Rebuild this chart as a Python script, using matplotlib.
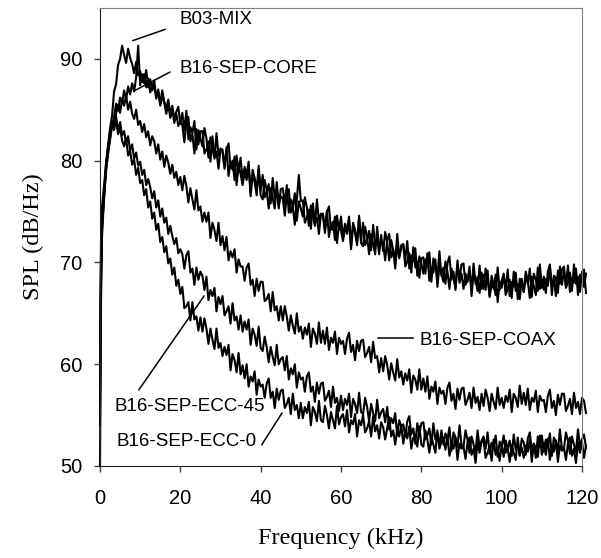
import matplotlib
matplotlib.use("Agg")
import matplotlib.pyplot as plt
import numpy as np

# frequency grid (kHz): 0, 0.25, then every 0.5 kHz up to 121
freq = np.concatenate([[0, 0.25], np.arange(0.5, 121.01, 0.5)])

# SPL (dB/Hz), one row = 5 kHz
mix = [62, 72, 75.5, 77.5, 79.8, 81.5, 83.2, 84.4, 86.8, 87.5, 89.4, 90.0, 91.3, 90.4, 89.6, 91.0, 90.1, 89.5, 88.6,
       89.7, 88.4, 88.8, 87.7, 88.5, 87.2, 88.1, 86.7, 87.3, 87.9, 86.2, 86.8, 85.6, 86.9, 85.8, 85.1, 86.0, 84.6,
       85.4, 84.2, 84.8, 85.3, 83.6,
       84.7, 83.0, 84.9, 82.1, 83.3, 82.7, 83.9, 81.1, 83.0, 82.2,
       81.4, 83.2, 82.2, 80.3, 82.3, 81.2, 80.2, 82.7, 80.5, 81.2,
       80.9, 79.2, 81.1, 81.7, 79.3, 80.0, 78.1, 80.5, 79.0, 80.3,
       78.1, 79.4, 78.6, 79.9, 76.9, 79.1, 78.3, 77.0, 79.5, 77.0,
       78.6, 76.4, 76.9, 77.7, 75.8, 78.3, 76.3, 76.9, 75.3, 77.2,
       77.3, 75.7, 77.6, 74.9, 76.2, 75.5, 76.8, 74.1, 76.0, 75.3,
       74.5, 76.4, 75.4, 73.6, 75.6, 74.6, 73.6, 76.2, 74.0, 74.8,
       74.6, 72.9, 74.9, 75.5, 73.2, 74.0, 72.2, 74.6, 73.2, 74.5,
       72.4, 73.8, 73.1, 74.5, 71.6, 73.9, 73.2, 72.0, 74.6, 72.2,
       73.9, 71.7, 72.2, 73.1, 71.2, 73.7, 71.7, 72.4, 70.8, 72.7,
       71.1, 73.0, 72.0, 70.2, 72.2, 71.2, 70.2, 72.8, 70.6, 71.4,
       71.8, 70.2, 72.1, 69.4, 70.7, 70.1, 71.4, 68.7, 70.6, 69.9,
       68.9, 70.3, 69.6, 71.0, 68.1, 70.4, 69.7, 68.5, 71.1, 68.7,
       69.5, 67.9, 69.9, 70.6, 68.3, 69.1, 67.3, 69.8, 68.4, 69.8,
       69.9, 67.8, 68.3, 69.2, 67.3, 69.9, 67.9, 68.6, 67.0, 69.0,
       67.4, 69.4, 68.4, 66.7, 68.7, 67.8, 66.8, 69.5, 67.3, 68.2,
       68.8, 67.3, 69.3, 66.7, 68.1, 67.6, 69.0, 66.4, 68.4, 67.8,
       67.1, 68.6, 67.9, 69.4, 66.6, 68.9, 68.3, 67.2, 69.8, 67.5,
       68.6, 67.0, 69.1, 69.8, 67.6, 68.4, 66.7, 69.2, 67.9, 69.3,
       69.6, 67.5, 68.1, 69.0, 67.2, 69.8, 67.9, 68.6, 67.1, 69.1,
       67.6, 68.9]

core = [58, 70, 74, 76.8, 79.2, 80.6, 82.4, 83.5, 84.3, 85.6, 84.9, 86.2, 85.7, 86.9, 86.0, 87.3, 86.5, 87.6, 86.8,
        88.2, 91.3, 87.4, 88.5, 87.6, 88.9, 87.2, 88.0, 86.9, 87.4, 86.1, 87.0, 85.4, 86.3, 85.7, 84.6, 85.5, 84.2,
        85.0, 83.7, 84.6, 83.4, 83.9,
        83.5, 81.8, 83.7, 84.3, 81.9, 82.6, 80.7, 83.1, 81.6, 82.9,
        82.9, 80.7, 81.1, 81.9, 79.9, 82.4, 80.3, 80.9, 79.2, 81.1,
        81.1, 79.4, 81.3, 78.5, 79.8, 79.1, 80.4, 77.6, 79.5, 78.7,
        77.6, 78.9, 78.1, 79.4, 76.5, 78.6, 77.9, 76.6, 79.1, 76.6,
        76.2, 78.1, 77.1, 75.3, 77.3, 76.3, 75.3, 77.9, 75.7, 76.5,
        76.3, 74.6, 76.6, 77.2, 74.9, 75.5, 73.7, 76.1, 78.6, 76.0,
        76.1, 73.9, 74.4, 75.2, 73.3, 75.8, 73.8, 74.4, 72.8, 74.7,
        74.8, 73.2, 75.1, 72.5, 73.8, 73.2, 74.5, 71.9, 73.8, 73.1,
        72.1, 73.5, 72.8, 74.2, 71.3, 73.6, 72.9, 71.7, 74.3, 71.9,
        71.6, 73.5, 72.5, 70.8, 72.8, 71.8, 70.8, 73.5, 71.3, 72.1,
        71.9, 70.2, 72.2, 72.8, 70.5, 71.2, 69.4, 71.8, 70.4, 71.7,
        71.8, 69.6, 70.1, 70.9, 69.0, 71.5, 69.5, 70.1, 68.5, 70.4,
        70.5, 68.9, 70.9, 68.2, 69.5, 69.0, 70.3, 67.6, 69.6, 68.9,
        68.1, 70.1, 69.1, 67.4, 69.4, 68.5, 67.5, 70.2, 68.0, 68.9,
        67.4, 68.9, 68.1, 69.6, 66.7, 69.0, 68.3, 67.2, 69.7, 67.4,
        68.8, 67.3, 69.2, 66.6, 67.9, 67.4, 68.8, 66.1, 68.1, 67.5,
        68.9, 66.8, 67.4, 68.3, 66.5, 69.1, 67.2, 67.9, 66.4, 68.4,
        67.1, 69.1, 68.2, 66.5, 68.6, 67.7, 66.8, 69.5, 67.4, 68.3,
        67.3, 68.4, 67.7, 69.6, 66.8, 68.7, 68.5, 67.0, 69.6, 67.8,
        69.2, 67.7, 69.7, 67.1, 68.5, 68.0, 69.4, 66.8, 68.8, 68.2,
        69.3, 67.0]

coax = [56, 69, 73.5, 76.2, 78.9, 80.8, 82.0, 83.4, 83.0, 84.6, 85.5, 84.7, 86.1, 85.4, 86.4, 85.0, 85.8, 84.6, 84.1,
        85.0, 83.5, 83.9, 82.8, 83.6, 82.3, 82.9, 81.5, 82.4, 81.9, 80.7, 81.6, 80.1, 80.9, 79.4, 80.5, 79.8, 78.7,
        79.6, 78.3, 78.9, 77.6, 78.4,
        77.1, 78.5, 77.5, 75.9, 77.3, 76.2, 75.2, 77.1, 75.1, 75.5,
        74.0, 74.9, 74.0, 74.9, 72.4, 73.9, 73.2, 72.1, 73.9, 71.7,
        72.6, 71.2, 72.5, 70.2, 71.1, 70.5, 71.3, 69.0, 70.3, 69.6,
        69.6, 68.2, 69.5, 69.9, 67.8, 68.3, 66.7, 68.4, 67.2, 68.1,
        68.1, 66.2, 66.4, 66.9, 65.2, 67.1, 65.3, 65.7, 64.3, 65.7,
        64.3, 65.7, 64.7, 63.3, 64.8, 63.8, 63.0, 65.0, 63.2, 63.7,
        62.5, 63.6, 62.9, 64.0, 61.7, 63.5, 63.0, 62.0, 64.1, 62.1,
        63.3, 62.0, 63.6, 61.4, 62.6, 62.1, 63.2, 61.0, 62.6, 62.0,
        62.3, 61.0, 62.5, 63.1, 61.2, 61.9, 60.4, 62.3, 61.3, 62.3,
        62.4, 60.7, 61.1, 61.7, 60.2, 62.2, 60.6, 60.8, 59.2, 60.6,
        59.3, 60.8, 59.9, 58.5, 60.1, 59.2, 58.4, 60.5, 58.7, 59.3,
        58.0, 59.1, 58.4, 59.5, 57.2, 58.9, 58.5, 57.5, 59.5, 57.5,
        58.6, 57.3, 58.8, 56.6, 57.8, 57.3, 58.3, 56.1, 57.7, 57.1,
        57.4, 56.1, 57.7, 58.2, 56.4, 57.1, 55.6, 57.6, 56.5, 57.6,
        57.7, 56.0, 56.5, 57.2, 55.7, 57.7, 56.2, 56.8, 55.5, 57.1,
        55.9, 57.5, 56.7, 55.4, 57.1, 56.3, 55.6, 57.7, 56.0, 56.7,
        55.7, 56.9, 56.3, 57.5, 55.3, 57.1, 56.7, 55.8, 57.9, 56.1,
        57.2, 56.0, 57.6, 55.5, 56.7, 56.3, 57.4, 55.3, 56.9, 56.4,
        56.5, 55.3, 56.9, 57.5, 55.7, 56.4, 55.0, 57.0, 56.0, 57.1,
        57.1, 55.4, 55.9, 56.6, 55.1, 57.2, 55.7, 56.3, 55.1, 56.7,
        56.4, 55.2]

ecc45 = [54, 68, 73.5, 76.8, 79.2, 81.3, 82.4, 83.6, 83.1, 84.3, 83.0, 83.8, 82.5, 82.9, 81.7, 82.4, 81.0, 81.6,
         80.2, 80.8, 79.5, 79.9, 78.6, 79.1, 77.6, 78.2, 77.4, 76.3, 77.0, 75.4, 76.1, 74.5, 75.3, 73.9, 74.4, 72.8,
         73.6, 72.6, 71.8, 72.4, 70.9, 71.3,
         70.8, 69.4, 70.7, 71.1, 69.0, 69.4, 67.8, 69.5, 68.3, 69.1,
         68.7, 67.3, 68.6, 66.3, 67.3, 66.7, 67.5, 65.2, 66.6, 65.9,
         66.7, 64.8, 65.2, 65.7, 64.0, 66.0, 64.3, 64.7, 63.4, 64.8,
         63.2, 64.2, 63.4, 64.4, 61.9, 63.5, 62.9, 61.8, 63.7, 61.6,
         61.3, 62.7, 61.7, 60.2, 61.7, 60.7, 59.9, 61.9, 60.0, 60.5,
         60.7, 59.4, 60.8, 58.5, 59.6, 59.0, 60.0, 57.7, 59.2, 58.5,
         58.7, 57.3, 58.8, 59.2, 57.3, 57.8, 56.3, 58.2, 57.1, 58.1,
         58.2, 56.4, 56.8, 57.4, 55.8, 57.8, 56.2, 56.7, 55.4, 56.9,
         55.5, 56.6, 56.0, 57.1, 54.8, 56.6, 56.1, 55.2, 57.2, 55.3,
         55.1, 56.7, 55.8, 54.4, 56.1, 55.2, 54.4, 56.5, 54.7, 55.3,
         55.6, 54.3, 55.8, 53.6, 54.7, 54.2, 55.2, 53.0, 54.5, 53.9,
         54.1, 52.9, 54.4, 54.9, 53.1, 53.7, 52.2, 54.2, 53.1, 54.2,
         54.3, 52.6, 53.0, 53.7, 52.1, 54.2, 52.6, 53.2, 52.0, 53.5,
         52.1, 53.2, 52.6, 53.8, 51.5, 53.3, 52.8, 51.9, 54.0, 52.0,
         51.9, 53.5, 52.6, 51.3, 52.9, 52.1, 51.4, 53.5, 51.8, 52.5,
         52.9, 51.7, 53.3, 51.2, 52.3, 51.9, 53.0, 50.9, 52.4, 51.9,
         53.0, 51.3, 51.8, 52.5, 51.0, 53.1, 51.6, 52.2, 51.0, 52.7,
         52.3, 51.1, 52.7, 53.3, 51.5, 52.2, 50.8, 52.9, 51.9, 53.0,
         51.4, 52.6, 52.0, 53.2, 51.0, 52.8, 52.4, 51.5, 53.6, 51.7,
         51.7, 53.3, 52.5, 51.2, 52.9, 52.1, 51.4, 53.6, 51.9, 52.6,
         53.1, 51.8]

ecc0 = [50, 66, 72.5, 76.3, 79.6, 81.2, 82.8, 83.9, 83.3, 84.0, 82.6, 83.2, 82.0, 81.4, 82.2, 80.5, 81.0, 79.6, 80.1,
        78.6, 79.3, 77.8, 78.1, 76.6, 77.2, 75.4, 76.0, 74.3, 74.9, 73.2, 73.8, 72.0, 72.5, 71.0, 71.6, 69.9, 70.4,
        68.8, 69.5, 67.7, 68.3, 66.9,
        67.6, 65.5, 65.7, 66.1, 64.3, 66.1, 64.4, 64.7, 63.3, 64.6,
        63.2, 64.5, 63.5, 62.0, 63.5, 62.4, 61.5, 63.5, 61.6, 62.1,
        60.8, 61.7, 60.9, 61.9, 59.4, 61.0, 60.4, 59.2, 61.1, 59.0,
        59.9, 58.6, 60.0, 57.8, 58.8, 58.3, 59.3, 57.0, 58.5, 57.8,
        58.0, 56.7, 58.1, 58.6, 56.7, 57.3, 55.7, 57.6, 56.5, 57.4,
        57.5, 55.7, 56.1, 56.7, 55.1, 57.1, 55.5, 56.0, 54.7, 56.2,
        54.7, 55.8, 55.2, 56.3, 54.0, 55.8, 55.3, 54.4, 56.4, 54.5,
        54.3, 55.9, 55.0, 53.7, 55.3, 54.5, 53.7, 55.9, 54.1, 54.8,
        55.1, 53.9, 55.5, 53.3, 54.5, 54.1, 55.1, 52.9, 54.5, 54.0,
        55.0, 53.3, 53.7, 54.4, 52.9, 54.9, 53.4, 54.0, 52.7, 54.3,
        53.8, 52.6, 53.7, 54.8, 52.9, 53.5, 52.1, 53.6, 52.9, 54.0,
        52.2, 53.4, 52.7, 53.9, 51.7, 52.8, 52.5, 51.9, 53.9, 52.1,
        51.9, 53.5, 52.6, 51.3, 52.9, 52.1, 51.3, 53.5, 51.7, 52.4,
        52.8, 51.6, 52.9, 51.0, 52.1, 51.7, 52.8, 50.6, 52.2, 51.7,
        51.9, 50.7, 52.3, 52.8, 51.1, 51.7, 50.3, 52.3, 51.3, 52.4,
        52.5, 50.8, 51.3, 52.0, 50.5, 52.6, 51.1, 51.7, 50.5, 52.1,
        50.9, 52.5, 51.7, 50.4, 52.1, 51.3, 50.6, 52.8, 51.1, 51.8,
        50.8, 52.0, 51.4, 52.6, 50.4, 52.2, 51.8, 50.9, 53.0, 51.1,
        52.3, 51.1, 52.7, 50.6, 51.8, 51.4, 52.5, 50.4, 52.0, 51.5,
        51.8, 50.6, 52.2, 52.8, 51.0, 51.7, 50.3, 52.3, 51.3, 52.4,
        50.8, 52.0]

sans = ['Liberation Sans', 'DejaVu Sans']
serif = ['Liberation Serif', 'DejaVu Serif']

fig = plt.figure(figsize=(6.01, 5.58), dpi=100)
ax = fig.add_axes([100/601, 92/558, 482/601, 458/558])

for s in [ecc0, ecc45, coax, core, mix]:
    ax.plot(freq, s, color='black', lw=1.5, clip_on=False)

ax.set_xlim(0, 120)
ax.set_ylim(50, 95)
ax.set_xticks(range(0, 121, 20))
ax.set_yticks(range(50, 91, 10))
ax.tick_params(direction='out', length=4.5, width=1, color='#404040', labelsize=14.5, pad=8)
ax.tick_params(axis='x', pad=12)
for lab in ax.get_xticklabels() + ax.get_yticklabels():
    lab.set_family(sans)

ax.spines['left'].set_color('#202020')
ax.spines['bottom'].set_color('#202020')
ax.spines['top'].set_color('#808080')
ax.spines['right'].set_color('#808080')

ax.set_xlabel('Frequency (kHz)', family=serif, fontsize=17.5, labelpad=14)
ax.set_ylabel('SPL (dB/Hz)', family=serif, fontsize=17.5, labelpad=12)

# labels with leader lines
lbl = dict(family=sans, fontsize=13.5, va='center', ha='left')
ax.text(19.7, 93.9, 'B03-MIX', **lbl)
ax.plot([16.2, 8.2], [92.9, 91.8], color='black', lw=1.1)
ax.text(19.7, 89.1, 'B16-SEP-CORE', **lbl)
ax.plot([17.4, 8.7], [88.7, 86.9], color='black', lw=1.1)
ax.text(79.6, 62.3, 'B16-SEP-COAX', **lbl)
ax.plot([69.2, 77.9], [62.6, 62.6], color='black', lw=1.1)
ax.text(3.7, 55.8, 'B16-SEP-ECC-45', **lbl)
ax.plot([9.7, 25.9], [57.5, 66.7], color='black', lw=1.1)
ax.text(4.2, 52.4, 'B16-SEP-ECC-0', **lbl)
ax.plot([40.3, 45.3], [52.1, 55.2], color='black', lw=1.1)

fig.savefig('out.png', dpi=100)
